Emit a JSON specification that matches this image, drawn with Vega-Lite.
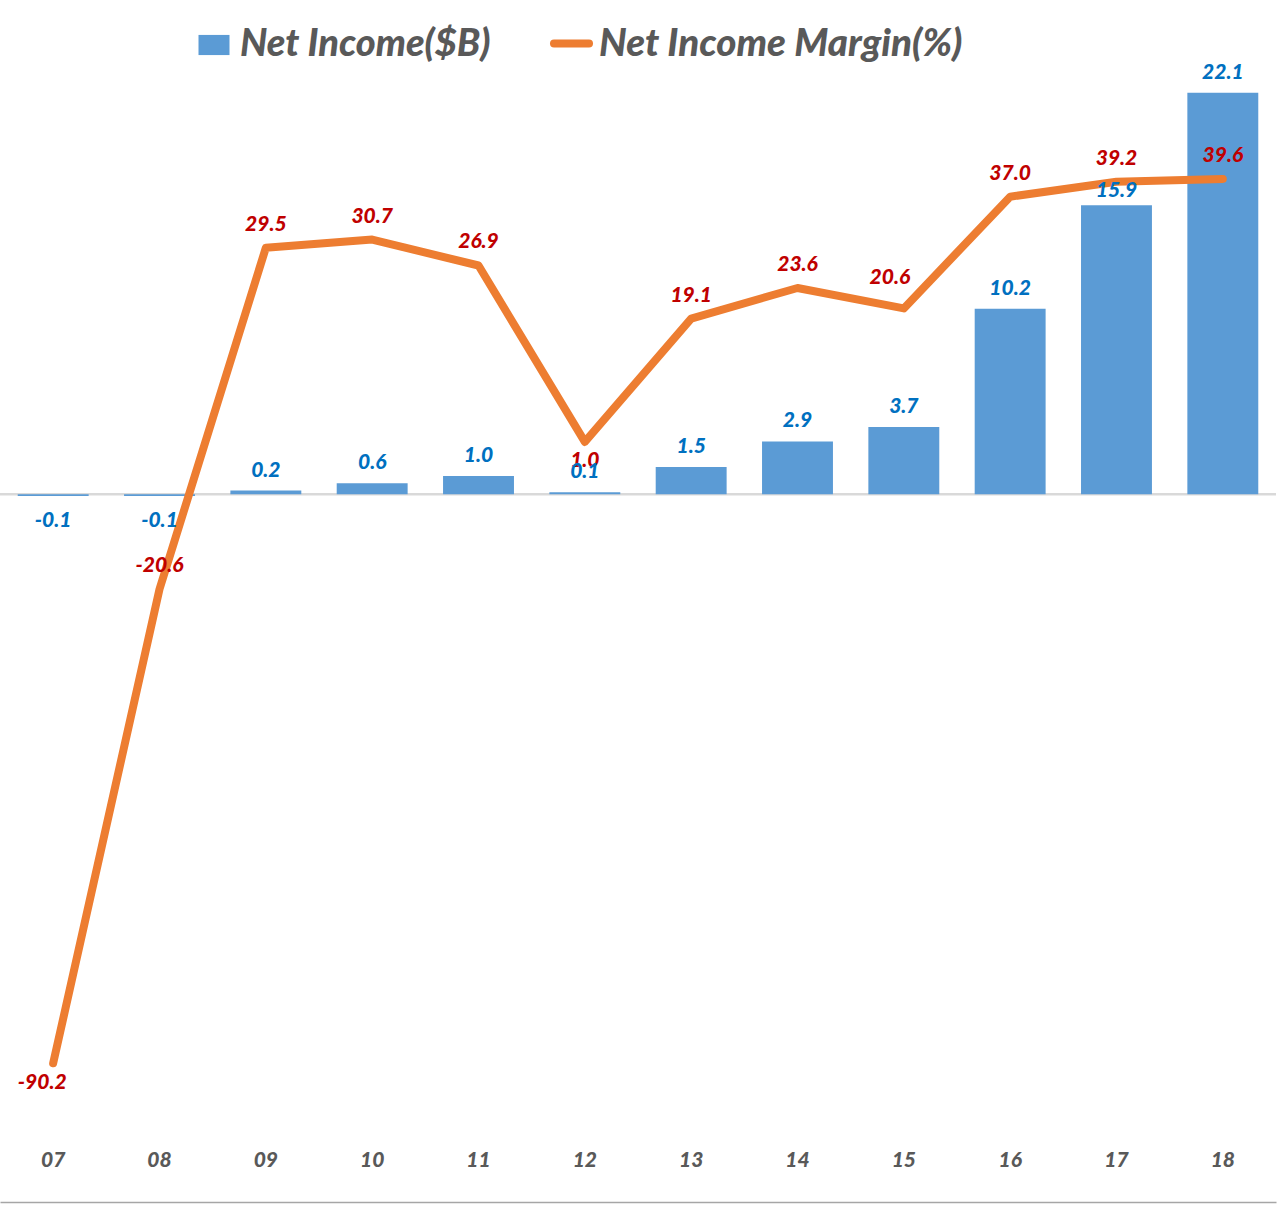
{
  "$schema": "https://vega.github.io/schema/vega-lite/v6.json",
  "width": 1276,
  "height": 1090,
  "autosize": {"type": "none"},
  "padding": {"left": 0, "top": 40, "right": 4, "bottom": 75},
  "background": "white",
  "config": {
    "view": {"stroke": null},
    "font": "Lato",
    "locale": {"number": {"decimal": ".", "thousands": ",", "grouping": [3], "currency": ["$", ""], "minus": "-"}}
  },
  "data": {
    "values": [
      {"year": "07", "income": -0.1, "margin": -90.2},
      {"year": "08", "income": -0.1, "margin": -20.6},
      {"year": "09", "income": 0.2, "margin": 29.5},
      {"year": "10", "income": 0.6, "margin": 30.7},
      {"year": "11", "income": 1.0, "margin": 26.9},
      {"year": "12", "income": 0.1, "margin": 1.0},
      {"year": "13", "income": 1.5, "margin": 19.1},
      {"year": "14", "income": 2.9, "margin": 23.6},
      {"year": "15", "income": 3.7, "margin": 20.6},
      {"year": "16", "income": 10.2, "margin": 37.0},
      {"year": "17", "income": 15.9, "margin": 39.2},
      {"year": "18", "income": 22.1, "margin": 39.6}
    ]
  },
  "layer": [
    {
      "layer": [
        {
          "data": {"values": [{}]},
          "mark": {"type": "rule", "color": "#D9D9D9", "strokeWidth": 2.5},
          "encoding": {
            "y": {"datum": 0, "type": "quantitative", "scale": {"domain": [-35, 25]}, "axis": null}
          }
        },
        {
          "mark": {"type": "bar", "color": "#5B9BD5"},
          "encoding": {
            "x": {"field": "year", "type": "ordinal", "sort": null,
              "scale": {"paddingInner": 0.333, "paddingOuter": 0.1667},
              "axis": {"title": null, "domain": true, "domainColor": "#A6A6A6", "domainWidth": 1.5, "offset": 72,
                "ticks": false, "grid": false, "labelAngle": 0,
                "labelFont": "Lato", "labelFontSize": 21, "labelFontStyle": "italic", "labelFontWeight": 900,
                "labelColor": "#595959", "labelPadding": -53}},
            "y": {"field": "income", "type": "quantitative", "scale": {"domain": [-35, 25]}, "axis": null},
            "fill": {"datum": "Net Income($B)", "type": "nominal",
              "scale": {"range": ["#5B9BD5"]},
              "legend": {"orient": "none", "legendX": 195, "legendY": -14, "title": null, "padding": 0,
                "symbolType": "M-1,-0.65H1V0.65H-1Z", "symbolSize": 961, "symbolStrokeWidth": 0,
                "labelFont": "Lato", "labelFontSize": 38, "labelFontStyle": "italic", "labelFontWeight": 900,
                "labelColor": "#595959", "labelOffset": 7, "labelLimit": 0}}
          }
        }
      ]
    },
    {
      "layer": [
        {
          "mark": {"type": "line", "color": "#ED7D31", "strokeWidth": 8, "strokeCap": "round", "strokeJoin": "round"},
          "encoding": {
            "x": {"field": "year", "type": "ordinal", "sort": null},
            "y": {"field": "margin", "type": "quantitative", "scale": {"domain": [-100, 60]}, "axis": null},
            "stroke": {"datum": "Net Income Margin(%)", "type": "nominal",
              "scale": {"range": ["#ED7D31"]},
              "legend": {"orient": "none", "legendX": 550, "legendY": -18, "title": null, "padding": 0,
                "symbolType": "stroke", "symbolSize": 1225, "symbolStrokeWidth": 8,
                "labelFont": "Lato", "labelFontSize": 38.5, "labelFontStyle": "italic", "labelFontWeight": 900,
                "labelColor": "#595959", "labelOffset": 6, "labelLimit": 0,
                "encode": {"symbols": {"update": {"strokeCap": {"value": "round"}}}}}}
          }
        },
        {
          "transform": [{"filter": "datum.year != '07' && datum.year != '12' && datum.year != '15'"}],
          "mark": {"type": "text", "color": "#C00000", "font": "Lato", "fontSize": 21, "fontStyle": "italic", "fontWeight": 900, "baseline": "middle", "dy": -23},
          "encoding": {
            "x": {"field": "year", "type": "ordinal", "sort": null},
            "y": {"field": "margin", "type": "quantitative"},
            "text": {"field": "margin", "type": "quantitative", "format": ".1f"}
          }
        },
        {
          "transform": [{"filter": "datum.year == '07'"}],
          "mark": {"type": "text", "color": "#C00000", "font": "Lato", "fontSize": 21, "fontStyle": "italic", "fontWeight": 900, "baseline": "middle", "dy": 20, "dx": -11},
          "encoding": {
            "x": {"field": "year", "type": "ordinal", "sort": null},
            "y": {"field": "margin", "type": "quantitative"},
            "text": {"field": "margin", "type": "quantitative", "format": ".1f"}
          }
        },
        {
          "transform": [{"filter": "datum.year == '12'"}],
          "mark": {"type": "text", "color": "#C00000", "font": "Lato", "fontSize": 21, "fontStyle": "italic", "fontWeight": 900, "baseline": "middle", "dy": 19},
          "encoding": {
            "x": {"field": "year", "type": "ordinal", "sort": null},
            "y": {"field": "margin", "type": "quantitative"},
            "text": {"field": "margin", "type": "quantitative", "format": ".1f"}
          }
        },
        {
          "transform": [{"filter": "datum.year == '15'"}],
          "mark": {"type": "text", "color": "#C00000", "font": "Lato", "fontSize": 21, "fontStyle": "italic", "fontWeight": 900, "baseline": "middle", "dy": -30, "dx": -14},
          "encoding": {
            "x": {"field": "year", "type": "ordinal", "sort": null},
            "y": {"field": "margin", "type": "quantitative"},
            "text": {"field": "margin", "type": "quantitative", "format": ".1f"}
          }
        }
      ]
    },
    {
      "layer": [
        {
          "transform": [{"filter": "datum.income >= 0 && datum.year != '17'"}],
          "mark": {"type": "text", "color": "#0070C0", "font": "Lato", "fontSize": 21, "fontStyle": "italic", "fontWeight": 900, "baseline": "middle", "dy": -20},
          "encoding": {
            "x": {"field": "year", "type": "ordinal", "sort": null},
            "y": {"field": "income", "type": "quantitative", "scale": {"domain": [-35, 25]}, "axis": null},
            "text": {"field": "income", "type": "quantitative", "format": ".1f"}
          }
        },
        {
          "transform": [{"filter": "datum.year == '17'"}],
          "mark": {"type": "text", "color": "#0070C0", "font": "Lato", "fontSize": 21, "fontStyle": "italic", "fontWeight": 900, "baseline": "middle", "dy": -14},
          "encoding": {
            "x": {"field": "year", "type": "ordinal", "sort": null},
            "y": {"field": "income", "type": "quantitative"},
            "text": {"field": "income", "type": "quantitative", "format": ".1f"}
          }
        },
        {
          "transform": [{"filter": "datum.income < 0"}],
          "mark": {"type": "text", "color": "#0070C0", "font": "Lato", "fontSize": 21, "fontStyle": "italic", "fontWeight": 900, "baseline": "middle", "dy": 25},
          "encoding": {
            "x": {"field": "year", "type": "ordinal", "sort": null},
            "y": {"field": "income", "type": "quantitative"},
            "text": {"field": "income", "type": "quantitative", "format": ".1f"}
          }
        }
      ]
    }
  ],
  "resolve": {"scale": {"y": "independent"}}
}
